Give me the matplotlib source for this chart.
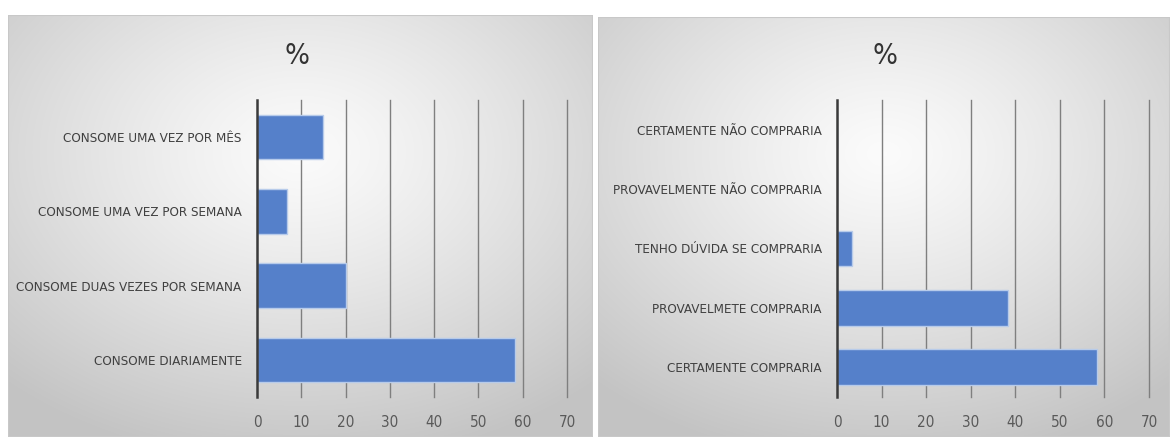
import matplotlib
matplotlib.use('Agg')
import matplotlib.pyplot as plt
import numpy as np
from matplotlib.patches import Rectangle

# data (bottom to top)
cats_consumo = ['CONSOME DIARIAMENTE', 'CONSOME DUAS VEZES POR SEMANA',
                'CONSOME UMA VEZ POR SEMANA', 'CONSOME UMA VEZ POR MÊS']
vals_consumo = [58.3, 20.0, 6.7, 15.0]

cats_compra = ['CERTAMENTE COMPRARIA', 'PROVAVELMETE COMPRARIA',
               'TENHO DÚVIDA SE COMPRARIA', 'PROVAVELMENTE NÃO COMPRARIA',
               'CERTAMENTE NÃO COMPRARIA']
vals_compra = [58.3, 38.3, 3.3, 0, 0]

xticks = [0, 10, 20, 30, 40, 50, 60, 70]

W, H = 1170, 437
fig = plt.figure(figsize=(W / 100, H / 100), dpi=100)
fig.patch.set_facecolor('white')
txt = '#404040'
fkw = dict(family='DejaVu Sans', stretch='condensed')


def panel_bg(x0, y0, x1, y1):
    # radial gradient panel, pixel coords from top-left
    ax = fig.add_axes([x0 / W, 1 - y1 / H, (x1 - x0) / W, (y1 - y0) / H])
    nx, ny = 300, 220
    xx, yy = np.meshgrid(np.linspace(-1, 1, nx), np.linspace(-1, 1, ny))
    r = np.sqrt((xx + 0.0) ** 2 + (yy + 0.35) ** 2) / 1.5
    r = np.clip(r, 0, 1)
    g = 0.985 - 0.22 * r ** 1.2
    ax.imshow(np.dstack([g, g, g]), aspect='auto', extent=[0, 1, 0, 1],
              interpolation='bilinear')
    ax.add_patch(Rectangle((0, 0), 1, 1, transform=ax.transAxes, fill=False,
                           ec='#c8c8c8', lw=1.5))
    ax.set_axis_off()
    return ax


def bar_panel(px_left, px_right, cats, vals, title_x):
    ax = fig.add_axes([px_left / W, 1 - 397 / H, (px_right - px_left) / W, 297 / H])
    ax.patch.set_alpha(0)
    y = np.arange(len(cats))
    ax.barh(y, vals, height=0.6, color='#5580ca', edgecolor='#b7cbea', lw=1, zorder=3)
    ax.set_xlim(0, 70)
    ax.set_ylim(-0.5, len(cats) - 0.5)
    ax.set_xticks(xticks)
    ax.set_xticklabels([str(t) for t in xticks], fontsize=11, color='#595959', **fkw)
    ax.set_yticks(y)
    ax.set_yticklabels(cats, fontsize=9.6, color=txt, **fkw)
    ax.tick_params(axis='both', length=0)
    ax.tick_params(axis='x', pad=13)
    ax.tick_params(axis='y', pad=11)
    for s in ['top', 'right', 'bottom']:
        ax.spines[s].set_visible(False)
    ax.spines['left'].set_color('#3a3a3a')
    ax.spines['left'].set_linewidth(1.8)
    ax.spines['left'].set_zorder(4)
    for t in xticks[1:]:
        ax.axvline(t, color='#7f7f7f', lw=1, zorder=1, clip_on=False)
    fig.text(title_x / W, 1 - 56 / H, '%', ha='center', va='center',
             fontsize=21, color='#333333', **fkw)
    return ax


panel_bg(8, 15, 593, 437)
panel_bg(598, 17, 1170, 437)
bar_panel(257, 567, cats_consumo, vals_consumo, 297)
bar_panel(837, 1149, cats_compra, vals_compra, 885)

plt.savefig('out.png', dpi=100)
